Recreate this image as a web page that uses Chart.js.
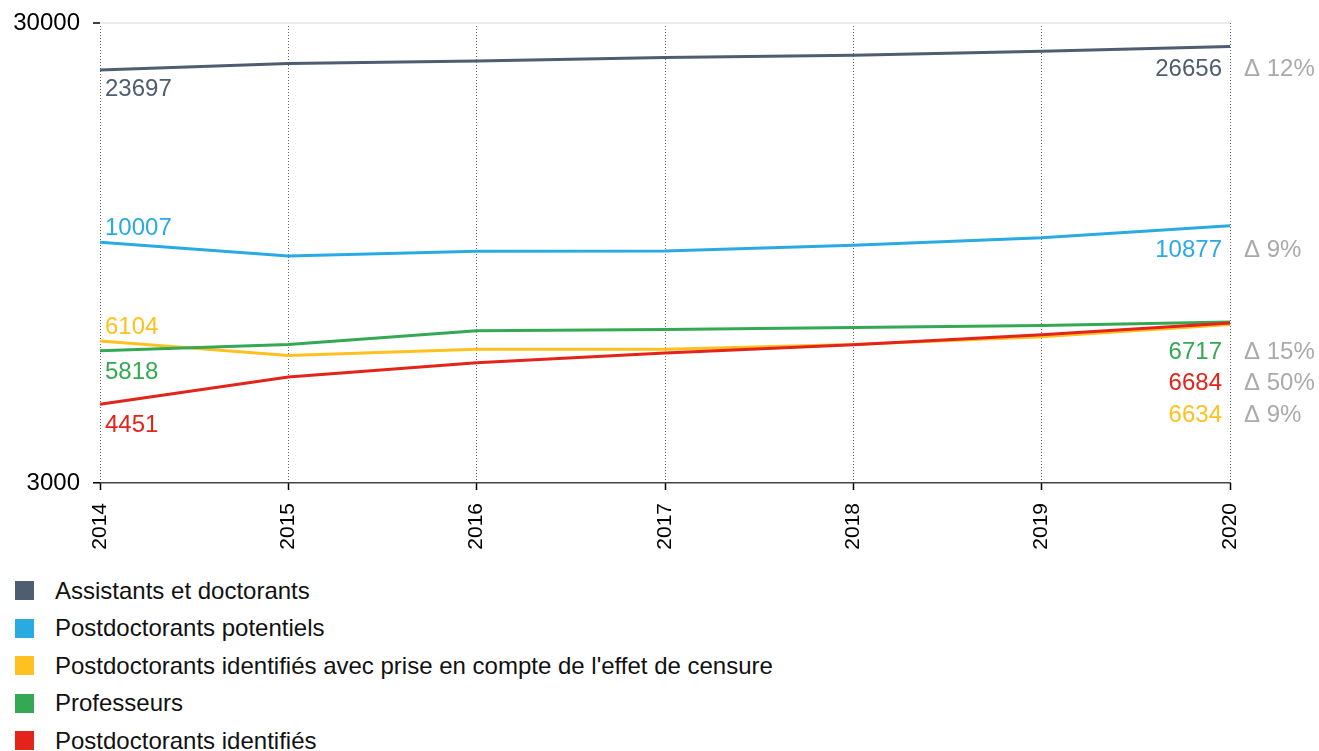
<!DOCTYPE html>
<html lang="fr">
<head>
<meta charset="utf-8">
<title>Effectifs 2014–2020</title>
<script src="https://cdn.jsdelivr.net/npm/chart.js@4/dist/chart.umd.min.js"></script>
<style>
  html, body { margin: 0; padding: 0; background: #fff; width: 1319px; height: 751px; overflow: hidden; }
  #wrap { position: relative; width: 1319px; height: 751px; }
  #chart { position: absolute; left: 0; top: 0; }
  #legend { position: absolute; left: 15px; top: 572px; margin: 0; padding: 0; list-style: none;
            font-family: "Liberation Sans", Arial, sans-serif; font-size: 24px; color: #111; }
  #legend li { height: 37.5px; display: flex; align-items: center; }
  #legend .sw { width: 19px; height: 19px; margin-right: 21px; flex: none; }
</style>
</head>
<body>
<div id="wrap">
  <canvas id="chart" width="1319" height="560"></canvas>
  <ul id="legend"></ul>
</div>
<script>
// Years on the horizontal axis
const years = ['2014', '2015', '2016', '2017', '2018', '2019', '2020'];

// Headcounts per year
const assistantsDoctorants = [23697, 24490, 24810, 25230, 25530, 26040, 26656];
const postdocsPotentiels   = [10007, 9350, 9570, 9580, 9860, 10240, 10877];
const postdocsCensure      = [6104, 5680, 5860, 5860, 6000, 6240, 6634];
const professeurs          = [5818, 6000, 6430, 6470, 6530, 6600, 6717];
const postdocsIdentifies   = [4451, 5100, 5480, 5750, 5990, 6300, 6684];

// Series names
const seriesNames = [
  'Assistants et doctorants',
  'Postdoctorants potentiels',
  "Postdoctorants identifiés avec prise en compte de l'effet de censure",
  'Professeurs',
  'Postdoctorants identifiés'
];

// Y axis ticks (log scale)
const yTicks = [3000, 30000];

const seriesColors = ['#4e5e70', '#29abe2', '#fec11f', '#35a853', '#e4231a'];
// vertical offsets (px) of the value labels relative to the line at first / last year
const firstLabelDy = [19.5, -13.5, -13.5, 21.5, 21.5];
const lastLabelDy  = [22.5, 24.5, 90.5, 30.5, 60.5];

const FONT = '"Liberation Sans", Arial, sans-serif';
const seriesValues = [assistantsDoctorants, postdocsPotentiels, postdocsCensure, professeurs, postdocsIdentifies];

const datasets = seriesValues.map((vals, i) => ({
  label: seriesNames[i],
  data: vals,
  borderColor: seriesColors[i],
  backgroundColor: seriesColors[i],
  borderWidth: 3,
  pointRadius: 0,
  tension: 0,
  fill: false,
  order: seriesValues.length - 1 - i
}));

// Value labels at both ends plus the change between first and last year
const endLabels = {
  id: 'endLabels',
  afterDatasetsDraw(chart) {
    const { ctx, scales: { x, y } } = chart;
    ctx.save();
    ctx.font = '24px ' + FONT;
    ctx.textBaseline = 'middle';
    chart.data.datasets.forEach((ds, i) => {
      const first = ds.data[0];
      const last = ds.data[ds.data.length - 1];
      ctx.fillStyle = ds.borderColor;
      ctx.textAlign = 'left';
      ctx.fillText(String(first), x.getPixelForValue(0) + 5, y.getPixelForValue(first) + firstLabelDy[i]);
      const xr = x.getPixelForValue(ds.data.length - 1);
      const yl = y.getPixelForValue(last) + lastLabelDy[i];
      ctx.textAlign = 'right';
      ctx.fillText(String(last), xr - 8, yl);
      ctx.textAlign = 'left';
      ctx.fillStyle = '#aaaaaa';
      const pct = Math.round((last / first - 1) * 100);
      ctx.fillText('\u0394 ' + pct + '%', xr + 14, yl);
    });
    ctx.restore();
  }
};

new Chart(document.getElementById('chart'), {
  type: 'line',
  data: { labels: years, datasets },
  plugins: [endLabels],
  options: {
    responsive: false,
    animation: false,
    devicePixelRatio: 1,
    layout: { padding: { top: 23, right: 89, left: 0, bottom: 0 } },
    plugins: { legend: { display: false }, tooltip: { enabled: false } },
    scales: {
      x: {
        type: 'category',
        offset: false,
        border: { display: false, dash: [1, 2] },
        grid: {
          color: '#666666',
          lineWidth: 1,
          drawTicks: true,
          tickLength: 7,
          tickColor: '#000000',
          tickWidth: 1.5,
          tickBorderDash: []
        },
        ticks: {
          autoSkip: false,
          minRotation: 90,
          maxRotation: 90,
          padding: 13,
          color: '#000000',
          font: { family: FONT, size: 21 }
        },
        afterFit(scale) { scale.height = 77; }
      },
      y: {
        type: 'logarithmic',
        min: 3000,
        max: 30000,
        border: { display: false, dash: [] },
        grid: {
          color: (c) => c.tick && c.tick.value === 30000 ? '#ececec' : '#444444',
          lineWidth: (c) => c.tick && c.tick.value === 30000 ? 2 : 1.5,
          drawTicks: true,
          tickLength: 7,
          tickColor: '#000000',
          tickWidth: 1.5
        },
        afterBuildTicks(scale) { scale.ticks = yTicks.map(v => ({ value: v })); },
        ticks: {
          padding: 13,
          color: '#000000',
          font: { family: FONT, size: 24 },
          callback: (v) => String(v)
        },
        afterFit(scale) {
          scale.width = 100;
          scale.paddingTop = 0;
          scale.paddingBottom = 0;
        }
      }
    }
  }
});

// Legend, one series per row
const legend = document.getElementById('legend');
seriesNames.forEach((name, i) => {
  const li = document.createElement('li');
  const sw = document.createElement('span');
  sw.className = 'sw';
  sw.style.background = seriesColors[i];
  li.appendChild(sw);
  li.appendChild(document.createTextNode(name));
  legend.appendChild(li);
});
</script>
</body>
</html>
